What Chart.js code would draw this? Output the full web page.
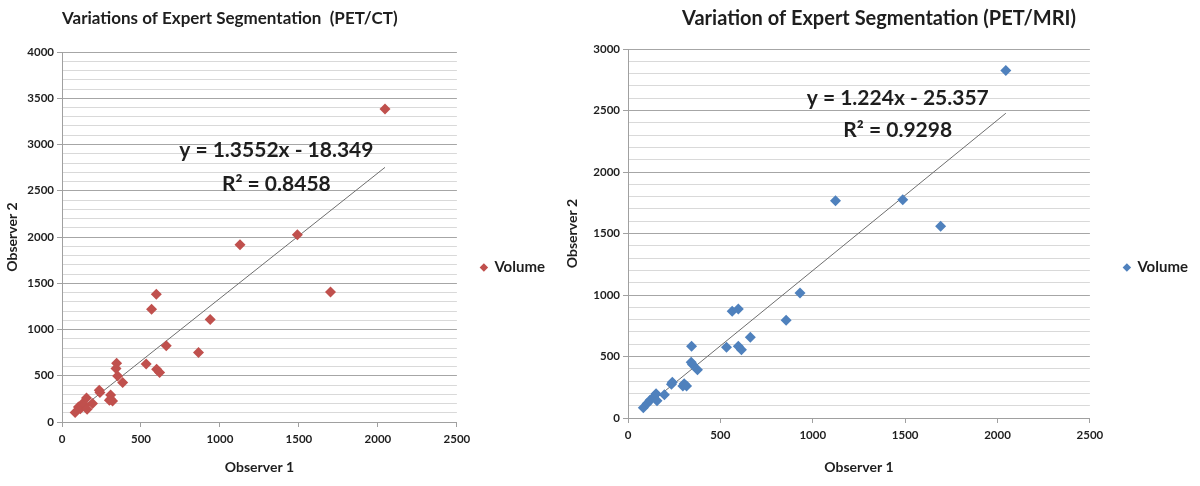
<!DOCTYPE html>
<html>
<head>
<meta charset="utf-8">
<script src="https://cdn.jsdelivr.net/npm/chart.js@4.4.1/dist/chart.umd.min.js"></script>
<style>
    body { margin: 0; background: #fff; width: 1200px; height: 486px; overflow: hidden; position: relative; }
    .wrap { position: absolute; top: 0; height: 486px; }
    #w1 { left: 0; width: 600px; }
    #w2 { left: 560px; width: 680px; }
</style>
</head>
<body>
<div class="wrap" id="w1"><canvas id="c1"></canvas></div>
<div class="wrap" id="w2"><canvas id="c2"></canvas></div>
<script>
// PET/CT volumes (observer 1 vs observer 2)
const ctObs1 = [83, 104, 116, 130, 145, 155, 159, 193, 236, 240, 300, 308, 308, 320, 346, 342, 352, 384,
    533, 567, 597, 599, 618, 660, 864, 938, 1127, 1490, 1700, 2045];
const ctObs2 = [102, 163, 143, 200, 182, 260, 138, 199, 343, 320, 235, 293, 246, 228, 636, 578, 498, 427,
    628, 1218, 1380, 571, 535, 823, 752, 1109, 1915, 2025, 1405, 3385];

// PET/MRI volumes
const mriObs1 = [83, 104, 119, 140, 152, 157, 197, 235, 240, 297, 304, 317, 344, 342, 349, 376,
    533, 564, 597, 597, 614, 662, 856, 931, 1123, 1487, 1692, 2045];
const mriObs2 = [84, 118, 145, 172, 198, 141, 190, 275, 290, 260, 279, 260, 583, 453, 435, 393,
    575, 867, 887, 583, 555, 657, 794, 1016, 1767, 1775, 1558, 2826];

// linear trendlines as printed on the chart
const ctFit = { slope: 1.3552, intercept: -18.349, r2: '0.8458' };
const mriFit = { slope: 1.224, intercept: -25.357, r2: '0.9298' };
const fitRange = [80, 2045];

const xTicks = [0, 500, 1000, 1500, 2000, 2500];

const FONT = 'Lato';
const TEXT = '#1e1e1e';

function toPoints(xs, ys) {
    return xs.map((x, i) => ({ x: x, y: ys[i] }));
}

function fitLine(fit) {
    return fitRange.map(x => ({ x: x, y: fit.slope * x + fit.intercept }));
}

function fmtEq(fit) {
    const sign = fit.intercept < 0 ? ' - ' : ' + ';
    return 'y = ' + fit.slope + 'x' + sign + Math.abs(fit.intercept);
}

// writes the trendline equation and R² at a spot given in data units
const eqLabel = {
    id: 'eqLabel',
    afterDatasetsDraw(chart, args, opts) {
        const { ctx, scales } = chart;
        const x = scales.x.getPixelForValue(opts.at[0]);
        const y1 = scales.y.getPixelForValue(opts.at[1]);
        ctx.save();
        ctx.fillStyle = TEXT;
        ctx.font = 'bold ' + opts.size + 'px ' + FONT;
        ctx.textAlign = 'center';
        ctx.textBaseline = 'middle';
        ctx.fillText(fmtEq(opts.fit), x, y1);
        ctx.fillText('R\u00B2 = ' + opts.fit.r2, x, y1 + opts.gap);
        ctx.restore();
    }
};

function makeChart(id, cfg) {
    const ctx = document.getElementById(id).getContext('2d');
    return new Chart(ctx, {
        type: 'scatter',
        data: {
            datasets: [
                {
                    label: 'Volume',
                    data: toPoints(cfg.obs1, cfg.obs2),
                    pointStyle: 'rectRot',
                    pointRadius: 5.5,
                    pointHoverRadius: 5.5,
                    backgroundColor: cfg.color,
                    borderColor: cfg.color,
                    borderWidth: 0
                },
                {
                    label: 'trend',
                    type: 'line',
                    data: fitLine(cfg.fit),
                    borderColor: '#6e6e6e',
                    borderWidth: 1,
                    pointRadius: 0,
                    fill: false
                }
            ]
        },
        options: {
            responsive: true,
            maintainAspectRatio: false,
            animation: false,
            layout: { padding: { left: 0, right: cfg.padRight, top: 0, bottom: 0 } },
            plugins: {
                title: {
                    display: true,
                    text: cfg.title,
                    fullSize: cfg.titleFull,
                    align: cfg.titleAlign,
                    color: TEXT,
                    font: { family: FONT, size: cfg.titleSize, weight: 'bold' },
                    padding: { top: cfg.titleTop, bottom: cfg.titleBottom }
                },
                legend: {
                    display: true,
                    position: 'right',
                    labels: {
                        filter: item => item.text === 'Volume',
                        usePointStyle: true,
                        boxWidth: 6,
                        boxHeight: 6,
                        padding: cfg.legendPad,
                        color: TEXT,
                        font: { family: FONT, size: 15, weight: 'bold' }
                    },
                    title: {
                        display: true,
                        text: ' ',
                        font: { size: 10 },
                        padding: { top: 0, bottom: 37 }
                    }
                },
                tooltip: { enabled: false },
                eqLabel: { fit: cfg.fit, at: cfg.eqAt, size: 21, gap: cfg.eqGap }
            },
            scales: {
                x: {
                    type: 'linear',
                    min: 0,
                    max: 2500,
                    afterBuildTicks: axis => { axis.ticks = xTicks.map(v => ({ value: v })); },
                    afterFit: axis => { axis.height = cfg.xHeight; },
                    border: { display: true, color: '#a0a0a0' },
                    grid: { drawOnChartArea: false, tickLength: 5, color: '#a0a0a0' },
                    ticks: {
                        color: TEXT,
                        padding: 5,
                        font: { family: FONT, size: 11.5, weight: 'bold' },
                        callback: v => String(v)
                    },
                    title: {
                        display: true,
                        text: 'Observer 1',
                        color: TEXT,
                        font: { family: FONT, size: 14, weight: 'bold' },
                        padding: { top: 0, bottom: 10 }
                    }
                },
                y: {
                    type: 'linear',
                    min: 0,
                    max: cfg.yMax,
                    afterFit: axis => { axis.width = cfg.yWidth; },
                    border: { display: true, color: '#a0a0a0' },
                    grid: {
                        tickLength: 5,
                        color: c => (c.tick && c.tick.value % 500 === 0) ? '#a6a6a6' : '#d9d9d9',
                        tickColor: c => (c.tick && c.tick.value % 500 === 0) ? '#a0a0a0' : 'rgba(0,0,0,0)'
                    },
                    ticks: {
                        stepSize: 100,
                        autoSkip: false,
                        padding: 3,
                        color: TEXT,
                        font: { family: FONT, size: 11.5, weight: 'bold' },
                        callback: v => (v % 500 === 0 ? String(v) : '')
                    },
                    title: {
                        display: true,
                        text: 'Observer 2',
                        color: TEXT,
                        font: { family: FONT, size: 14, weight: 'bold' },
                        padding: { top: 4, bottom: 0 }
                    }
                }
            }
        },
        plugins: [eqLabel]
    });
}

makeChart('c1', {
    obs1: ctObs1, obs2: ctObs2, fit: ctFit,
    color: '#c0504d',
    title: 'Variations of Expert Segmentation  (PET/CT)',
    titleFull: false, titleAlign: 'start', titleSize: 17,
    yMax: 4000,
    yWidth: 62, xHeight: 64,
    titleTop: 8, titleBottom: 23.6,
    legendPad: 24, padRight: 45,
    eqAt: [1357, 2936], eqGap: 34
});

makeChart('c2', {
    obs1: mriObs1, obs2: mriObs2, fit: mriFit,
    color: '#4f81bd',
    title: 'Variation of Expert Segmentation (PET/MRI)',
    titleFull: true, titleAlign: 'center', titleSize: 20,
    yMax: 3000,
    yWidth: 68, xHeight: 68,
    titleTop: 7, titleBottom: 18,
    legendPad: 34, padRight: 42,
    eqAt: [1460, 2602], eqGap: 32
});
</script>
</body>
</html>
